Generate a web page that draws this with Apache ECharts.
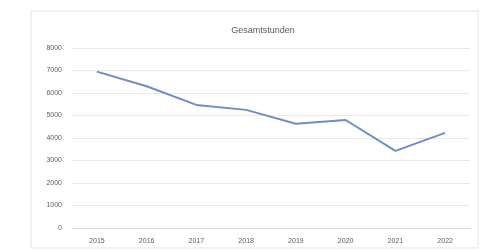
<!DOCTYPE html>
<html>
<head>
<meta charset="utf-8">
<script src="https://cdn.jsdelivr.net/npm/echarts@6/dist/echarts.min.js"></script>
<style>
  html, body { margin: 0; padding: 0; background: #fff; }
  #chart { width: 487px; height: 252px; }
</style>
</head>
<body>
<div id="chart"></div>
<script>
// Jahre und Gesamtstunden (aus dem Bild geschaetzt)
var years = ['2015', '2016', '2017', '2018', '2019', '2020', '2021', '2022'];
var hours = [6950, 6300, 5470, 5250, 4630, 4800, 3430, 4230];
var yMax = 8000;
var yStep = 1000;

var myChart = echarts.init(document.getElementById('chart'));
myChart.setOption({
  backgroundColor: '#fff',
  animation: false,
  // Rahmen um das Diagramm
  graphic: [{
    type: 'rect',
    shape: { x: 31, y: 11, width: 447, height: 237 },
    style: { fill: 'none', stroke: '#e4e4e4', lineWidth: 1 },
    silent: true
  }],
  title: {
    text: 'Gesamtstunden',
    left: 258,
    textAlign: 'center',
    top: 21,
    textStyle: { color: '#5a5a5a', fontSize: 9, fontWeight: 'normal', fontFamily: 'Liberation Sans' }
  },
  grid: { left: 72, right: 17, top: 48, bottom: 24 },
  xAxis: {
    type: 'category',
    data: years,
    boundaryGap: true,
    axisLine: { lineStyle: { color: '#d9d9d9' } },
    axisTick: { show: false },
    axisLabel: { color: '#606060', fontSize: 7, margin: 10, fontFamily: 'Liberation Sans' }
  },
  yAxis: {
    type: 'value',
    min: 0,
    max: yMax,
    interval: yStep,
    axisLine: { show: false },
    axisTick: { show: false },
    axisLabel: {
      color: '#606060', fontSize: 7, margin: 10, fontFamily: 'Liberation Sans',
      formatter: function (v) { return String(v); }
    },
    splitLine: { lineStyle: { color: '#e8e8e8' } }
  },
  series: [{
    name: 'Gesamtstunden',
    type: 'line',
    data: hours,
    symbol: 'none',
    lineStyle: { color: '#6b8fc6', width: 2 }
  }]
});
</script>
</body>
</html>
